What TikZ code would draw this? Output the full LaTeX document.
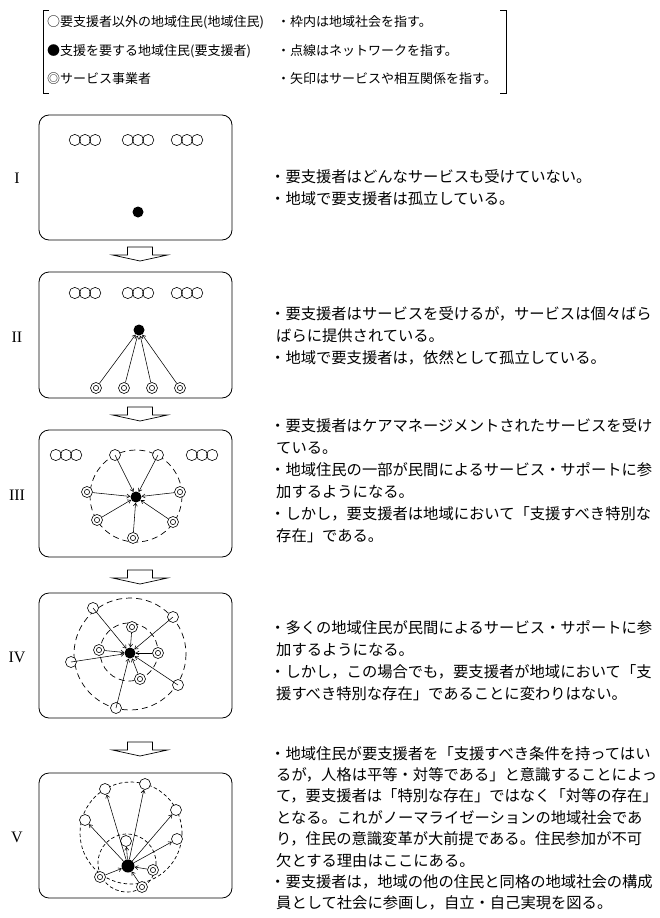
\documentclass[tikz,border=0pt]{standalone}
\usepackage{fontspec}
\setmainfont{Noto Sans CJK JP}
\newfontfamily\romfont{Liberation Serif}
\usetikzlibrary{arrows.meta}
\tikzset{
  box/.style={draw, line width=0.8pt, rounded corners=10pt},
  res/.style={circle, draw, fill=white, line width=0.6pt, minimum size=11pt, inner sep=0pt},
  svc/.style={res, path picture={\draw[line width=0.6pt] (path picture bounding box.center) circle[radius=2.6pt];}},
  ppl/.style={circle, fill=black, minimum size=11pt, inner sep=0pt},
  conn/.style={line width=0.55pt, -{Straight Barb[length=3pt,width=4pt]}},
  net/.style={line width=0.7pt, dash pattern=on 6pt off 4pt},
  netfine/.style={line width=0.7pt, dash pattern=on 3.5pt off 2.5pt},
  txt/.style={font=\fontsize{15.3}{18}\selectfont, inner sep=0pt, anchor=base west},
  leg/.style={font=\fontsize{13}{16}\selectfont, inner sep=0pt, anchor=base west},
  rom/.style={font=\romfont\fontsize{16}{18}\selectfont, inner sep=0pt},
  hollow/.style={draw, line width=0.7pt, fill=white},
  trio/.pic={\foreach \d in {-10.2,0,10.2} \draw[line width=0.6pt] (\d,0) circle[radius=5.6];},
}
\newcommand\hollowarrow[1]{\draw[hollow] (127.5,#1) -- (152.5,#1) -- (152.5,{#1+8}) -- (167.5,{#1+8}) -- (140,{#1+14}) -- (112.5,{#1+8}) -- (127.5,{#1+8}) -- cycle;}
\newcommand\para[4]{\foreach \ln [count=\i] in {#4}{\node[txt] (#1-\i) at (270,{#2+(\i-1)*#3}) {\ln};}}
\begin{document}
\begin{tikzpicture}[x=1pt,y=-1pt]
\useasboundingbox (0,0) rectangle (660,918);
% legend
\draw[line width=0.7pt] (49,10) -- (43,10) -- (43,93) -- (49,93);
\draw[line width=0.7pt] (500,10) -- (506,10) -- (506,93) -- (500,93);
\node[leg] (lgA1) at (47,27) {○要支援者以外の地域住民(地域住民)};
\node[leg] (lgA2) at (47,55) {●支援を要する地域住民(要支援者)};
\node[leg] (lgA3) at (47,83) {◎サービス事業者};
\node[leg] (lgB1) at (277,27) {・枠内は地域社会を指す。};
\node[leg] (lgB2) at (277,55) {・点線はネットワークを指す。};
\node[leg] (lgB3) at (277,83) {・矢印はサービスや相互関係を指す。};
% roman labels
\node[rom] (r1) at (17,178) {I};
\node[rom] (r2) at (17,337) {II};
\node[rom] (r3) at (17,495) {III};
\node[rom] (r4) at (17,657) {IV};
\node[rom] (r5) at (17,837) {V};
% panel I
\draw[box] (39,115) rectangle (232,240);
\pic at (85,140) {trio}; \pic at (138,140) {trio}; \pic at (187,140) {trio};
\node[ppl] (d1) at (138,212) {};
\hollowarrow{247}
% panel II
\draw[box] (39,272) rectangle (232,398);
\pic at (85,293) {trio}; \pic at (138,293) {trio}; \pic at (187,293) {trio};
\node[ppl] (d2) at (139,330) {};
\node[svc] (s2a) at (96,388) {};
\node[svc] (s2b) at (124,388) {};
\node[svc] (s2c) at (152,388) {};
\node[svc] (s2d) at (180,388) {};
\foreach \n in {s2a,s2b,s2c,s2d} \draw[conn] (\n) -- (d2);
\hollowarrow{407}
% panel III
\draw[box] (39,430) rectangle (232,557);
\pic at (66,455) {trio}; \pic at (202,455) {trio};
\draw[net] (136,496) circle[radius=46];
\node[ppl] (d3) at (136,497) {};
\node[res] (w3a) at (115,455) {};
\node[res] (w3b) at (158,455) {};
\node[svc] (s3a) at (87,492) {};
\node[svc] (s3b) at (180,492) {};
\node[svc] (s3c) at (97,520) {};
\node[svc] (s3d) at (173,522) {};
\node[svc] (s3e) at (133,538) {};
\foreach \n in {w3a,w3b} \draw[conn] (\n.center) -- (d3);
\foreach \n in {s3a,s3b,s3c,s3d,s3e} \draw[conn] (\n) -- (d3);
\hollowarrow{570}
% panel IV
\draw[box] (39,593) rectangle (232,718);
\draw[net] (130,654) circle[radius=56];
\draw[net] (129,652) circle[radius=29];
\node[ppl] (d4) at (130,653) {};
\node[res] (w4a) at (93,608) {};
\node[res] (w4b) at (173,617) {};
\node[res] (w4c) at (71,662) {};
\node[res] (w4d) at (178,685) {};
\node[res] (w4e) at (116,708) {};
\node[svc] (s4a) at (132,627) {};
\node[svc] (s4b) at (99,650) {};
\node[svc] (s4c) at (158,653) {};
\node[svc] (s4d) at (140,679) {};
\foreach \n in {w4a,w4b,w4c,w4d,w4e} \draw[conn] (\n.center) -- (d4);
\foreach \n in {s4a,s4b,s4c,s4d} \draw[conn] (\n) -- (d4);
\hollowarrow{742}
% panel V
\draw[box] (39,773) rectangle (232,898);
\draw[netfine] (131,833) circle[radius=51];
\draw[netfine] (127,863) circle[radius=29];
\node[ppl, minimum size=13pt] (d5) at (128,866) {};
\node[res] (w5a) at (105,789) {};
\node[res] (w5b) at (145,784) {};
\node[res] (w5c) at (85,820) {};
\node[res] (w5d) at (176,810) {};
\node[res] (w5e) at (177,839) {};
\node[res] (w5f) at (126,841) {};
\node[svc] (s5a) at (100,877) {};
\node[svc] (s5b) at (153,870) {};
\node[svc] (s5c) at (142,887) {};
\foreach \n in {w5a,w5b,w5c,w5d,w5e,w5f} \draw[conn] (d5) -- (\n);
\foreach \n in {s5a,s5b,s5c} \draw[conn] (\n) -- (d5);
% texts
\para{pI}{182}{22}{{・要支援者はどんなサービスも受けていない。},{・地域で要支援者は孤立している。}}
\para{pII}{319}{22}{{・要支援者はサービスを受けるが，サービスは個々ばら},{\hspace*{6pt}ばらに提供されている。},{・地域で要支援者は，依然として孤立している。}}
\para{pIII}{431}{22}{{・要支援者はケアマネージメントされたサービスを受け},{\hspace*{6pt}ている。},{・地域住民の一部が民間によるサービス・サポートに参},{\hspace*{6pt}加するようになる。},{・しかし，要支援者は地域において「支援すべき特別な},{\hspace*{6pt}存在」である。}}
\para{pIV}{633}{22}{{・多くの地域住民が民間によるサービス・サポートに参},{\hspace*{6pt}加するようになる。},{・しかし，この場合でも，要支援者が地域において「支},{\hspace*{6pt}援すべき特別な存在」であることに変わりはない。}}
\para{pV}{759}{21.4}{{・地域住民が要支援者を「支援すべき条件を持ってはい},{\hspace*{6pt}るが，人格は平等・対等である」と意識することによっ},{\hspace*{6pt}て，要支援者は「特別な存在」ではなく「対等の存在」},{\hspace*{6pt}となる。これがノーマライゼーションの地域社会であ},{\hspace*{6pt}り，住民の意識変革が大前提である。住民参加が不可},{\hspace*{6pt}欠とする理由はここにある。},{・要支援者は，地域の他の住民と同格の地域社会の構成},{\hspace*{6pt}員として社会に参画し，自立・自己実現を図る。}}
\end{tikzpicture}
\end{document}
